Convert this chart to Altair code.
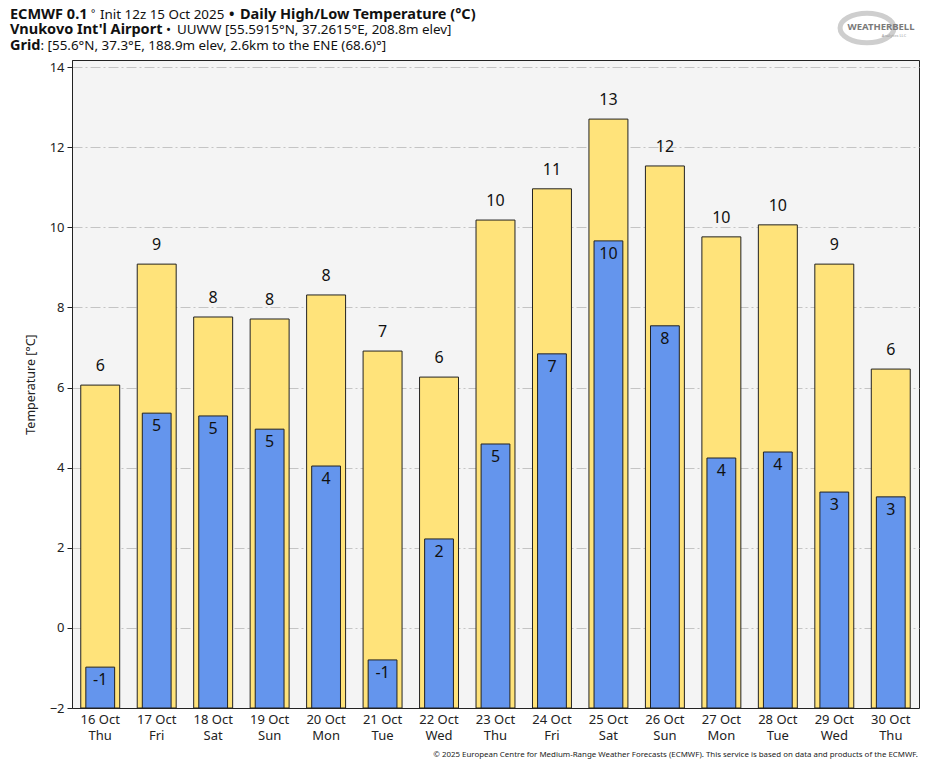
import altair as alt
import pandas as pd

days = ["16 Oct", "17 Oct", "18 Oct", "19 Oct", "20 Oct", "21 Oct", "22 Oct", "23 Oct",
        "24 Oct", "25 Oct", "26 Oct", "27 Oct", "28 Oct", "29 Oct", "30 Oct"]
weekdays = ["Thu", "Fri", "Sat", "Sun", "Mon", "Tue", "Wed", "Thu",
            "Fri", "Sat", "Sun", "Mon", "Tue", "Wed", "Thu"]
highs = [6.06, 9.08, 7.76, 7.71, 8.31, 6.91, 6.26, 10.18, 10.96, 12.70, 11.53, 9.76, 10.06, 9.08, 6.46]
lows = [-0.98, 5.36, 5.29, 4.96, 4.04, -0.80, 2.22, 4.59, 6.84, 9.66, 7.54, 4.24, 4.39, 3.39, 3.27]
y_ticks = [-2, 0, 2, 4, 6, 8, 10, 12, 14]
y_base = -2

FONT = "Noto Sans"
YELLOW = "#FFE37A"
BLUE = "#6495ED"

df = pd.DataFrame({
    "day": [f"{d}|{w}" for d, w in zip(days, weekdays)],
    "high": highs,
    "low": lows,
    "base": [y_base] * len(days),
})

x_enc = alt.X("day:N", sort=None, title=None,
              scale=alt.Scale(paddingInner=0, paddingOuter=0),
              axis=alt.Axis(labelExpr="split(datum.value, '|')", labelAngle=0,
                            ticks=False, labelPadding=5, labelFontSize=13,
                            labelLineHeight=16, labelColor="#222", grid=False,
                            domainColor="#222"))
y_scale = alt.Scale(domain=[-2, 14.175], nice=False, zero=False)
y_axis = alt.Axis(values=y_ticks, title="Temperature [°C]", titleFontSize=12.5,
                  titleFontWeight="normal", titlePadding=12, labelFontSize=13,
                  labelPadding=3, tickSize=5, tickColor="#222", domainColor="#222",
                  labelColor="#222", titleColor="#222",
                  grid=True, gridColor="#c4c4c4", gridDash=[10, 3, 2, 3], gridWidth=1)

base = alt.Chart(df)

hi_bars = base.mark_bar(color=YELLOW, stroke="#222", strokeWidth=1,
                        width={"band": 0.69}).encode(
    x=x_enc,
    y=alt.Y("high:Q", scale=y_scale, axis=y_axis),
    y2="base:Q",
)
lo_bars = base.mark_bar(color=BLUE, stroke="#222", strokeWidth=1,
                        width={"band": 0.51}).encode(
    x=x_enc,
    y=alt.Y("low:Q", scale=y_scale, axis=y_axis),
    y2="base:Q",
)
hi_text = base.transform_calculate(lbl="toString(round(datum.high))").mark_text(
    font=FONT, fontSize=16, baseline="bottom", dy=-11, color="#111").encode(
    x=x_enc, y=alt.Y("high:Q", scale=y_scale, axis=y_axis), text="lbl:N")
lo_text = base.transform_calculate(lbl="toString(round(datum.low))").mark_text(
    font=FONT, fontSize=16, baseline="top", dy=5, color="#111").encode(
    x=x_enc, y=alt.Y("low:Q", scale=y_scale, axis=y_axis), text="lbl:N")

one = pd.DataFrame({"k": [0]})

BOLD = 14.5
NORM = 13.4


def deco(txt, x, y, size=NORM, bold=False, align="left", color="#111", angle=0):
    return alt.Chart(one).mark_text(
        text=txt, font=FONT, fontSize=size, fontWeight="bold" if bold else "normal",
        align=align, baseline="alphabetic", color=color, angle=angle,
    ).encode(x=alt.value(x), y=alt.value(y))


# page coords -> plot coords: subtract (72, 60)
titles = [
    deco("ECMWF 0.1", -62, -41, size=BOLD, bold=True),
    deco("°", 19, -43, size=10),
    deco("Init 12z 15 Oct 2025", 28, -41),
    deco("•", 157, -41, size=BOLD, bold=True),
    deco("Daily High/Low Temperature (°C)", 168, -41, size=BOLD, bold=True),
    deco("Vnukovo Int'l Airport", -62, -26, size=BOLD, bold=True),
    deco("•", 94, -26),
    deco("UUWW [55.5915°N, 37.2615°E, 208.8m elev]", 105, -26),
    deco("Grid", -62, -10, size=BOLD, bold=True),
    deco(": [55.6°N, 37.3°E, 188.9m elev, 2.6km to the ENE (68.6)°]", -31.5, -10),
    deco("© 2025 European Centre for Medium-Range Weather Forecasts (ECMWF). "
         "This service is based on data and products of the ECMWF.",
         846, 697, size=7.9, align="right", color="#222"),
    deco("WEATHERBELL", 809, -30, size=9.5, bold=True, align="center", color="#7a7a7a"),
    deco("Analytics LLC", 822, -23, size=4, align="center", color="#999"),
]

logo = alt.Chart(one).mark_point(
    shape="M-1,0 A1,0.55 0 1,1 1,0 A1,0.55 0 1,1 -1,0", size=2900, filled=False,
    stroke="#c2c2c2", strokeWidth=5, opacity=0.8,
).encode(x=alt.value(795), y=alt.value(-32))

chart = alt.layer(hi_bars, lo_bars, hi_text, lo_text, logo, *titles).properties(
    width=847, height=648, autosize="none",
    padding={"left": 64, "top": 52, "right": 8, "bottom": 60},
    background="white",
).configure_view(fill="#F4F4F4", stroke="#222", strokeWidth=1).configure_axis(
    labelFont=FONT, titleFont=FONT,
)

chart.save("out.html", embed_options={"renderer": "svg", "actions": False})
